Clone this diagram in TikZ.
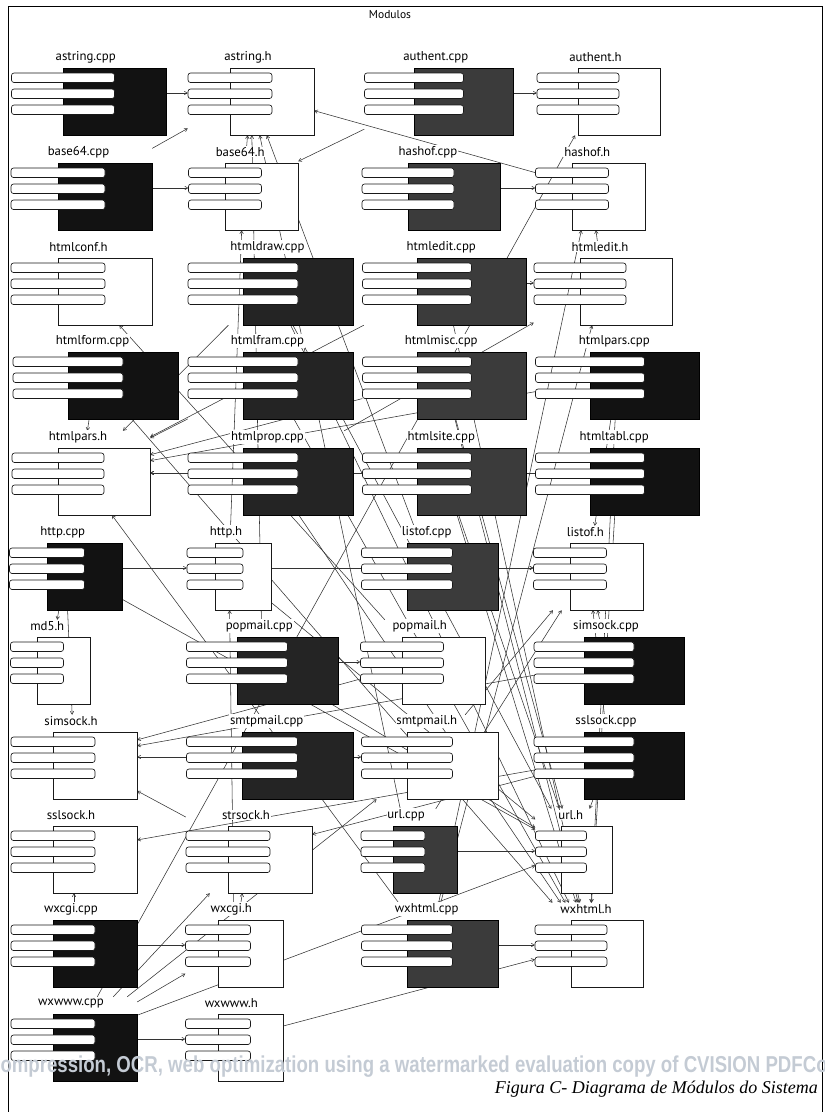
\documentclass[tikz,border=0pt]{standalone}
\usepackage{fontspec}
\setmainfont{PT Sans}
\newfontfamily\capfont{Liberation Serif}
\newfontfamily\wmfont{Liberation Sans}
\usetikzlibrary{arrows.meta}
\pgfdeclarelayer{background}
\pgfsetlayers{background,main}
\definecolor{wmgrey}{RGB}{196,203,212}
\tikzstyle{hfile}=[draw=black!90,fill=white,line width=0.65pt]
\tikzstyle{cppdark}=[draw=black,fill=black!93,line width=0.65pt]
\tikzstyle{cppmix}=[draw=black,fill=black!86,line width=0.65pt]
\tikzstyle{cppgrey}=[draw=black,fill=black!77,line width=0.65pt]
\tikzstyle{modbar}=[draw=black!90,fill=white,line width=0.65pt,rounded corners=2.5pt]
\tikzstyle{modlabel}=[fill=white,inner sep=0.8pt,font=\fontsize{12.8}{14}\selectfont]
\tikzstyle{modarea}=[rectangle,draw=none,inner sep=0pt]
\tikzstyle{dep}=[-{Straight Barb[length=3pt,width=3.5pt]},draw=black!80,line width=0.55pt]

\begin{document}
\begin{tikzpicture}[x=1pt,y=-1pt]
  \useasboundingbox (0,0) rectangle (825,1112);
  \draw[line width=0.9pt] (8,1112) -- (8,6) -- (822,6) -- (822,1112);
  \node[modlabel,font=\fontsize{11.5}{13}\selectfont] (title) at (390,15) {Modulos};

  % modules: name / body left / top / width / fill / label
  \foreach \nm/\bx/\by/\bw/\sty/\lab in {
    astringcpp/63/68/103/cppdark/astring.cpp, astringh/230/68/84/hfile/astring.h,
    authentcpp/414/68/99/cppgrey/authent.cpp, authenth/578/68/82/hfile/authent.h,
    base64cpp/58/163/94/cppdark/base64.cpp, base64h/225/163/73/hfile/base64.h,
    hashofcpp/408/163/92/cppgrey/hashof.cpp, hashofh/572/163/73/hfile/hashof.h,
    htmlconfh/58/258/94/hfile/htmlconf.h, htmldrawcpp/243/258/110/cppmix/htmldraw.cpp,
    htmleditcpp/417/258/109/cppgrey/htmledit.cpp, htmledith/580/258/92/hfile/htmledit.h,
    htmlformcpp/68/352/110/cppdark/htmlform.cpp, htmlframcpp/243/352/110/cppmix/htmlfram.cpp,
    htmlmisccpp/417/352/109/cppgrey/htmlmisc.cpp, htmlparscpp/590/352/109/cppdark/htmlpars.cpp,
    htmlparsh/58/448/92/hfile/htmlpars.h, htmlpropcpp/243/448/110/cppmix/htmlprop.cpp,
    htmlsitecpp/417/448/109/cppgrey/htmlsite.cpp, htmltablcpp/590/448/109/cppdark/htmltabl.cpp,
    httpcpp/47/543/75/cppdark/http.cpp, httph/215/543/56/hfile/http.h,
    listofcpp/407/543/91/cppgrey/listof.cpp, listofh/570/543/73/hfile/listof.h,
    md5h/37/637/53/hfile/md5.h, popmailcpp/237/637/101/cppmix/popmail.cpp,
    popmailh/402/637/83/hfile/popmail.h, simsockcpp/584/637/100/cppdark/simsock.cpp,
    simsockh/53/732/84/hfile/simsock.h, smtpmailcpp/242/732/111/cppmix/smtpmail.cpp,
    smtpmailh/407/732/91/hfile/smtpmail.h, sslsockcpp/584/732/100/cppdark/sslsock.cpp,
    sslsockh/53/826/84/hfile/sslsock.h, strsockh/228/826/84/hfile/strsock.h,
    urlcpp/393/826/64/cppgrey/url.cpp, urlh/561/826/51/hfile/url.h,
    wxcgicpp/53/920/84/cppdark/wxcgi.cpp, wxcgih/218/920/65/hfile/wxcgi.h,
    wxhtmlcpp/407/920/91/cppgrey/wxhtml.cpp, wxhtmlh/571/920/72/hfile/wxhtml.h,
    wxwwwcpp/53/1014/84/cppdark/wxwww.cpp, wxwwwh/218/1014/65/hfile/wxwww.h}{
    \pgfmathsetmacro{\cx}{\bx+\bw/4}
    \pgfmathsetmacro{\aw}{1.5*\bw}
    \node[modarea,minimum width=\aw pt,minimum height=84pt] (\nm) at (\cx,\by+25) {};
    \draw[\sty] (\bx,\by) rectangle ++(\bw,67);
    \foreach \k in {0,1,2}
      \draw[modbar] (\bx-\bw/2,\by+5+16*\k) rectangle ++(\bw,9.5);
    \node[modlabel] (\nm-lab) at (\cx-3,\by-11) {\lab};
  }

  % dependencies, behind the modules
  \begin{pgfonlayer}{background}
    \foreach \src/\dst in {
      astringcpp/astringh, authentcpp/authenth, base64cpp/base64h, hashofcpp/hashofh,
      htmleditcpp/htmledith, httpcpp/httph, listofcpp/listofh, popmailcpp/popmailh,
      smtpmailcpp/smtpmailh, urlcpp/urlh, wxcgicpp/wxcgih, wxhtmlcpp/wxhtmlh,
      wxwwwcpp/wxwwwh, httph/listofh, smtpmailcpp/simsockh,
      base64cpp/astringh, authentcpp/base64h, hashofh/astringh, base64h/astringh,
      listofcpp/astringh, urlcpp/astringh, popmailcpp/astringh, httph/base64h,
      htmldrawcpp/htmlparsh, htmlformcpp/htmlparsh, htmlframcpp/htmlparsh,
      htmlpropcpp/htmlparsh, htmlmisccpp/htmlparsh, htmlparscpp/htmlparsh,
      htmleditcpp/htmlparsh, htmlsitecpp/htmlparsh, htmltablcpp/htmlparsh,
      wxhtmlcpp/htmlparsh,
      htmledith/hashofh, wxhtmlcpp/hashofh, wxhtmlcpp/htmledith, htmlpropcpp/htmledith,
      popmailh/htmlconfh,
      htmlparscpp/listofh, simsockcpp/listofh, sslsockcpp/listofh, smtpmailh/listofh,
      urlcpp/listofh,
      simsockcpp/simsockh, popmailh/simsockh, strsockh/simsockh, httpcpp/simsockh,
      httpcpp/md5h, sslsockcpp/sslsockh, wxcgicpp/sslsockh, sslsockcpp/strsockh,
      wxcgih/httph, wxcgih/strsockh, httpcpp/urlh, httph/urlh, popmailcpp/urlh,
      sslsockcpp/urlh, htmldrawcpp/urlh, htmlmisccpp/urlh, htmlsitecpp/urlh,
      htmlformcpp/wxhtmlh, htmldrawcpp/wxhtmlh, htmlframcpp/wxhtmlh, htmlpropcpp/wxhtmlh,
      htmleditcpp/wxhtmlh, htmlmisccpp/wxhtmlh, htmlsitecpp/wxhtmlh, htmlparscpp/wxhtmlh,
      htmltablcpp/wxhtmlh, wxwwwh/wxhtmlh,
      wxwwwcpp/wxcgih, wxwwwcpp/strsockh, wxwwwcpp/urlh, wxwwwcpp/smtpmailh,
      wxwwwcpp/authenth}
      \draw[dep] (\src) -- (\dst);
  \end{pgfonlayer}

  \node[anchor=base west,inner sep=0pt,text=wmgrey,xscale=0.81,
        font=\wmfont\bfseries\fontsize{23}{26}\selectfont] (wm) at (-10,1072)
        {compression, OCR, web optimization using a watermarked evaluation copy of CVISION PDFCompressor};
  \node[anchor=base east,inner sep=0pt,font=\capfont\itshape\fontsize{18}{20}\selectfont]
        (caption) at (818,1093) {Figura C- Diagrama de Módulos do Sistema};
\end{tikzpicture}
\end{document}
